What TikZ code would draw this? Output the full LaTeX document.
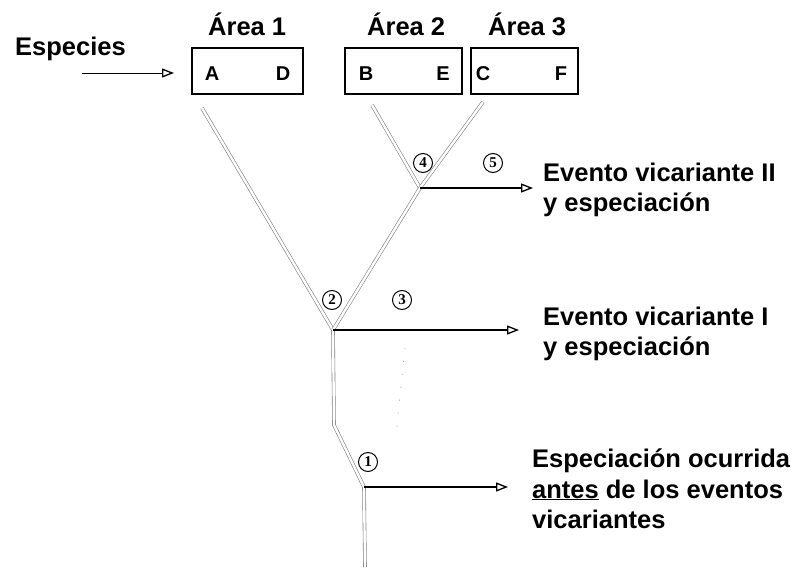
\documentclass[tikz,border=0pt]{standalone}
\usepackage{fontspec}
\setmainfont{Liberation Sans}
\newfontfamily\numfont{Liberation Serif}
\usetikzlibrary{arrows.meta}
\tikzset{
  lbl/.style={font=\fontsize{25.5}{30}\selectfont\bfseries, inner sep=0pt, anchor=base west},
  sp/.style={font=\fontsize{20}{24}\selectfont\bfseries, inner sep=0pt, anchor=base},
  areabox/.style={draw=black, line width=1.4pt},
  branch/.style={draw=black!50, line width=0.6pt, double=white, double distance=2.4pt, line join=miter},
  evarrow/.style={draw=black, line width=1.2pt, -{Triangle[open, length=12pt, width=9pt, line width=1.3pt]}},
  num/.style={circle, draw=black, line width=1pt, minimum size=19pt, inner sep=0pt, font=\numfont\bfseries\fontsize{15}{15}\selectfont}
}
\begin{document}
\begin{tikzpicture}[x=1pt, y=-1pt]
\useasboundingbox (0,0) rectangle (792,570);
% labels
\node[lbl] (esp) at (15,55) {Especies};
\node[lbl] (a1) at (208,35) {Área 1};
\node[lbl] (a2) at (367,35) {Área 2};
\node[lbl] (a3) at (488,35) {Área 3};
% boxes
\draw[areabox] (192,48) rectangle (303,94);
\draw[areabox] (345,48) rectangle (462,94);
\draw[areabox] (471,48) rectangle (578,94);
\node[sp] (A) at (212,80) {A};
\node[sp] (D) at (283,80) {D};
\node[sp] (B) at (366,80) {B};
\node[sp] (E) at (443,80) {E};
\node[sp] (C) at (483,80) {C};
\node[sp] (F) at (561,80) {F};
% especies arrow
\coordinate (es0) at (82,73);
\coordinate (es1) at (174,73);
\draw[evarrow, line width=1pt] (es0) -- (es1);
% tree coordinates
\coordinate (tA) at (202,108);
\coordinate (tB) at (372,105);
\coordinate (tC) at (483,102);
\coordinate (n4) at (420,188);
\coordinate (n2) at (333,330);
\coordinate (bend) at (334,425);
\coordinate (n1) at (364,487);
\coordinate (root) at (365,567);
\draw[branch] (tA) -- (n2);
\draw[branch] (tB) -- (n4);
\draw[branch] (tC) -- (n4) -- (n2);
\draw[branch] (n2) -- (bend) -- (n1) -- (root);
% faint dotted trace
\coordinate (d0) at (405,348);
\coordinate (d1) at (396,435);
\draw[gray!70, line width=0.8pt, dash pattern=on 1pt off 12pt] (d0) -- (d1);
% event arrows
\coordinate (e4) at (533,188);
\coordinate (e2) at (519,330);
\coordinate (e1) at (508,487);
\draw[evarrow] (n4) -- (e4);
\draw[evarrow] (n2) -- (e2);
\draw[evarrow] (n1) -- (e1);
% circled numbers
\node[num] (c4) at (423,163) {4};
\node[num] (c5) at (493,163) {5};
\node[num] (c2) at (332,300) {2};
\node[num] (c3) at (402,300) {3};
\node[num] (c1) at (368,462) {1};
% event texts
\node[lbl] (t2a) at (543,181) {Evento vicariante II};
\node[lbl] (t2b) at (543,211) {y especiación};
\node[lbl] (t1a) at (543,325) {Evento vicariante I};
\node[lbl] (t1b) at (543,355) {y especiación};
\node[lbl] (t0a) at (532,467) {Especiación ocurrida};
\node[lbl] (t0b) at (532,498) {\underline{antes} de los eventos};
\node[lbl] (t0c) at (532,528) {vicariantes};
\end{tikzpicture}
\end{document}
